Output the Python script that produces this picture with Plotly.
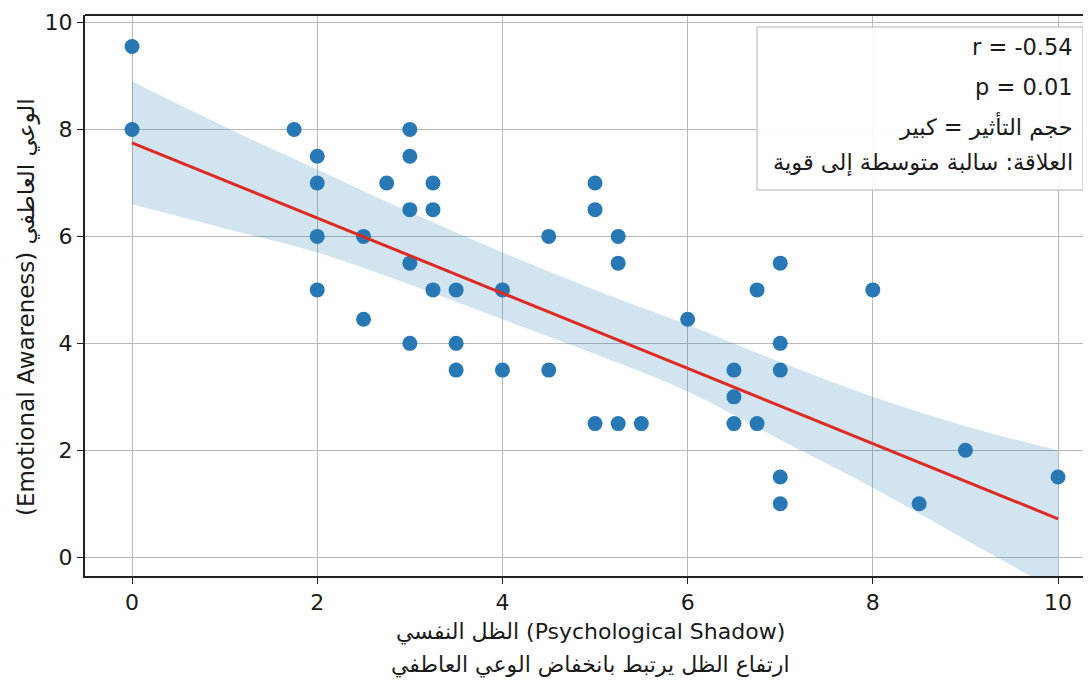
import plotly.graph_objects as go

# ---- data ----
shadow = [0, 0, 1.75, 2, 2, 2, 2, 2.5, 2.5, 2.75, 3, 3, 3, 3, 3, 3.25, 3.25, 3.25,
          3.5, 3.5, 3.5, 4, 4, 4.5, 4.5, 5, 5, 5, 5.25, 5.25, 5.25, 5.5, 6,
          6.5, 6.5, 6.5, 6.75, 6.75, 7, 7, 7, 7, 7, 8, 8.5, 9, 10]
awareness = [9.55, 8.0, 8.0, 7.5, 7.0, 6.0, 5.0, 6.0, 4.45, 7.0, 8.0, 7.5, 6.5, 5.5, 4.0, 7.0, 6.5, 5.0,
             5.0, 4.0, 3.5, 5.0, 3.5, 6.0, 3.5, 7.0, 6.5, 2.5, 6.0, 5.5, 2.5, 2.5, 4.45,
             3.5, 3.0, 2.5, 5.0, 2.5, 5.5, 4.0, 3.5, 1.5, 1.0, 5.0, 1.0, 2.0, 1.5]

fit_x = [0, 10]
fit_y = [7.75, 0.72]

band_x = [0, 1, 2, 3, 4, 5, 6, 7, 8, 9, 10]
band_upper = [8.9, 8.05, 7.25, 6.45, 5.7, 5.0, 4.35, 3.65, 3.0, 2.45, 2.0]
band_lower = [6.6, 6.15, 5.7, 5.1, 4.45, 3.8, 3.1, 2.2, 1.3, 0.33, -0.64]

x_ticks = [0, 2, 4, 6, 8, 10]
y_ticks = [0, 2, 4, 6, 8, 10]

stats_lines = [
    "r = -0.54",
    "p = 0.01",
    "حجم التأثير = كبير",
    "العلاقة: سالبة متوسطة إلى قوية",
]
x_title_1 = "الظل النفسي (Psychological Shadow)"
x_title_2 = "ارتفاع الظل يرتبط بانخفاض الوعي العاطفي"
y_title = "(Emotional Awareness) الوعي العاطفي"

# ---- layout geometry (viewport pixels; page body has an 8px margin) ----
OFF = 8
W, H = 1091, 686
PLOT_L, PLOT_R, PLOT_T, PLOT_B = 85, 1091, 15, 576
ML = PLOT_L - OFF
MT = PLOT_T - OFF
MR = W - (PLOT_R - OFF)
MB = H - (PLOT_B - OFF)
PW, PH = W - ML - MR, H - MT - MB

def px(xv):
    return (xv - OFF - ML) / PW

def py(yv):
    return (H - MB - (yv - OFF)) / PH

FONT = "DejaVu Sans, Noto Sans, sans-serif"
TXT = "#1a1a1a"

fig = go.Figure()

fig.add_trace(go.Scatter(x=band_x, y=band_upper, mode="lines", line=dict(width=0, shape="spline"),
                         hoverinfo="skip", showlegend=False))
fig.add_trace(go.Scatter(x=band_x, y=band_lower, mode="lines", line=dict(width=0, shape="spline"),
                         fill="tonexty", fillcolor="rgba(31,119,180,0.2)",
                         hoverinfo="skip", showlegend=False))
fig.add_trace(go.Scatter(x=shadow, y=awareness, mode="markers",
                         marker=dict(size=15, color="#2878b5"), showlegend=False))
fig.add_trace(go.Scatter(x=fit_x, y=fit_y, mode="lines",
                         line=dict(color="#dd2a22", width=3), showlegend=False))

axis_common = dict(showgrid=True, gridcolor="#b8b8b8", gridwidth=1,
                   showline=True, linecolor="#222", linewidth=2,
                   ticks="outside", ticklen=6, tickcolor="#222", tickwidth=1.2,
                   tickfont=dict(family=FONT, size=22, color=TXT), zeroline=False,
                   automargin=False, ticklabeloverflow="allow")

fig.update_xaxes(range=[-0.508, 10.356], tickvals=x_ticks, **axis_common)
fig.update_yaxes(range=[-0.35, 10.14], tickvals=y_ticks, **axis_common)

# top spine
fig.add_shape(type="line", xref="paper", yref="paper", x0=0, x1=1, y0=1, y1=1,
              line=dict(color="#222", width=2))

# stats box
fig.add_shape(type="rect", xref="paper", yref="paper",
              x0=px(757), x1=px(1083), y0=py(190), y1=py(27),
              line=dict(color="#cccccc", width=1.5), fillcolor="rgba(255,255,255,0.9)",
              layer="above")
line_y = [47, 87, 126, 162]
for t, yy in zip(stats_lines, line_y):
    fig.add_annotation(text=t, xref="paper", yref="paper", x=px(1075), y=py(yy),
                       xanchor="right", yanchor="middle", showarrow=False,
                       font=dict(family=FONT, size=22.5, color=TXT))

# axis titles
fig.add_annotation(text=x_title_1, xref="paper", yref="paper", x=px(590), y=py(632),
                   xanchor="center", yanchor="middle", showarrow=False,
                   font=dict(family=FONT, size=22, color=TXT))
fig.add_annotation(text=x_title_2, xref="paper", yref="paper", x=px(590), y=py(665),
                   xanchor="center", yanchor="middle", showarrow=False,
                   font=dict(family=FONT, size=22, color=TXT))
fig.add_annotation(text=y_title, xref="paper", yref="paper", x=px(26), y=py(307),
                   xanchor="center", yanchor="middle", showarrow=False, textangle=-90,
                   font=dict(family=FONT, size=23, color=TXT))

fig.update_layout(width=W, height=H, margin=dict(l=ML, r=MR, t=MT, b=MB, autoexpand=False),
                  plot_bgcolor="white", paper_bgcolor="white", showlegend=False)

fig.write_html("out.html")
